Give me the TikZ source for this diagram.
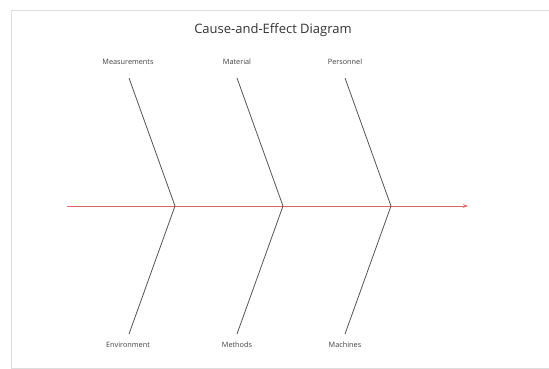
\documentclass[tikz,border=0pt]{standalone}
\usepackage{fontspec}
\setmainfont{Open Sans}
\usetikzlibrary{arrows.meta}
\definecolor{bone}{HTML}{555555}
\definecolor{spine}{HTML}{E06666}
\definecolor{frame}{HTML}{DDDDDD}
\begin{document}
\begin{tikzpicture}[x=1pt,y=-1pt,
  lab/.style={font=\fontsize{7.3}{8}\selectfont, text=black!75, inner sep=1pt},
  bonel/.style={draw=bone, line width=0.8pt},
  spinel/.style={draw=spine, line width=0.9pt, -{Stealth[length=5pt,width=3.5pt]}}]
\useasboundingbox (0,0) rectangle (549,369);
\fill[white] (0,0) rectangle (549,369);
\draw[frame, line width=0.8pt] (549,10) -- (11,10) -- (11,368) -- (549,368);
\node[font=\fontsize{13}{15}\selectfont, text=black!80] (title) at (273,30) {Cause-and-Effect Diagram};
% labels
\node[lab] (mea) at (128,62) {Measurements};
\node[lab] (mat) at (237,62) {Material};
\node[lab] (per) at (345,62) {Personnel};
\node[lab] (env) at (128,345) {Environment};
\node[lab] (met) at (237,345) {Methods};
\node[lab] (mac) at (345,345) {Machines};
% coordinates
\coordinate (s0) at (67,206);
\coordinate (s1) at (468,206);
\coordinate (j1) at (175,206);
\coordinate (j2) at (283,206);
\coordinate (j3) at (391,206);
\coordinate (t1) at (129,78);
\coordinate (t2) at (237,78);
\coordinate (t3) at (345,78);
\coordinate (b1) at (129,334);
\coordinate (b2) at (237,334);
\coordinate (b3) at (345,334);
\draw[spinel] (s0) -- (s1);
\draw[bonel] (t1) -- (j1) -- (b1);
\draw[bonel] (t2) -- (j2) -- (b2);
\draw[bonel] (t3) -- (j3) -- (b3);
\end{tikzpicture}
\end{document}
